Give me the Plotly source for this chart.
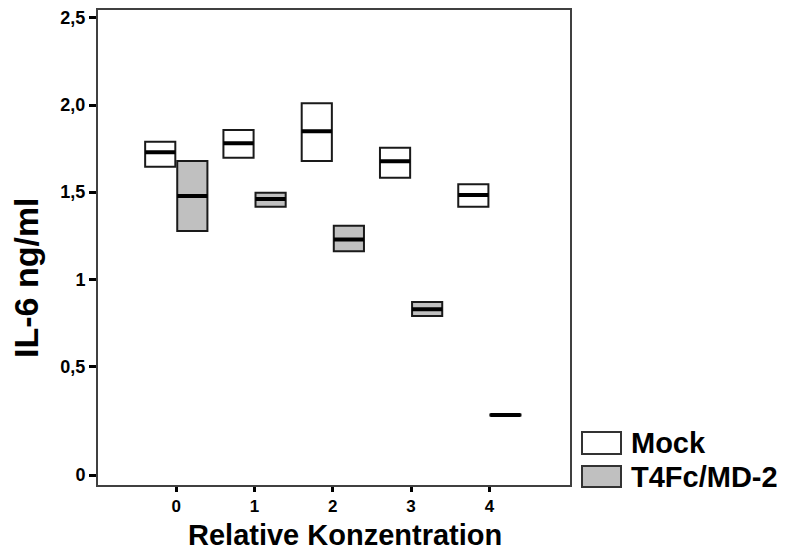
import plotly.graph_objects as go

categories = [0, 1, 2, 3, 4]
tick_text_x = ["0", "1", "2", "3", "4"]

mock_q1 = [1.646, 1.698, 1.679, 1.583, 1.416]
mock_median = [1.729, 1.780, 1.849, 1.677, 1.484]
mock_q3 = [1.789, 1.857, 2.010, 1.755, 1.545]

t4_q1 = [1.277, 1.416, 1.161, 0.789, 0.218]
t4_median = [1.478, 1.461, 1.229, 0.828, 0.221]
t4_q3 = [1.679, 1.497, 1.307, 0.870, 0.224]

y_tick_vals = [-0.123, 0.5, 1.0, 1.5, 2.0, 2.5]
y_tick_text = ["0", "0,5", "1", "1,5", "2,0", "2,5"]

series_names = ["Mock", "T4Fc/MD-2"]
fill_colors = ["#ffffff", "#c0c0c0"]
x_title = "Relative Konzentration"
y_title = "IL-6 ng/ml"

FONT = "Liberation Sans, Arial, sans-serif"

fig = go.Figure()

groups = [
    (series_names[0], mock_q1, mock_median, mock_q3, fill_colors[0], "g1"),
    (series_names[1], t4_q1, t4_median, t4_q3, fill_colors[1], "g2"),
]

for name, q1, med, q3, fc, og in groups:
    fig.add_trace(go.Box(
        name=name, x=categories, q1=q1, median=med, q3=q3,
        lowerfence=q1, upperfence=q3,
        fillcolor=fc, line=dict(color="#1a1a1a", width=2),
        whiskerwidth=0, offsetgroup=og, showlegend=False,
        boxpoints=False,
    ))
for name, q1, med, q3, fc, og in groups:
    fig.add_trace(go.Box(
        name=name + " median", x=categories, q1=med, median=med, q3=med,
        lowerfence=med, upperfence=med,
        fillcolor="rgba(0,0,0,0)", line=dict(color="#000000", width=4),
        whiskerwidth=0, offsetgroup=og, showlegend=False,
        boxpoints=False,
    ))

# page body has an 8px default margin; compensate so the plot lands where the reference has it
OFF = 8
L, R, T, B = 98, 570, 10, 485
W, H = R - L, B - T
def px(x):
    return (x - L) / W
def py(y):
    return (B - y) / H

legend_items = [(series_names[0], fill_colors[0], 432, 454),
                (series_names[1], fill_colors[1], 466, 487)]
shapes = []
annotations = []
for name, fc, y0, y1 in legend_items:
    shapes.append(dict(type="rect", xref="paper", yref="paper",
                       x0=px(582), x1=px(621), y0=py(y1), y1=py(y0),
                       fillcolor=fc, line=dict(color="#333333", width=2)))
    annotations.append(dict(xref="paper", yref="paper", x=px(629),
                            y=py((y0 + y1) / 2), text="<b>%s</b>" % name,
                            showarrow=False, xanchor="left", yanchor="middle",
                            font=dict(family=FONT, size=29, color="black")))

# axis titles
annotations.append(dict(xref="paper", yref="paper", x=px(345), y=py(535),
                        text="<b>%s</b>" % x_title, showarrow=False,
                        xanchor="center", yanchor="middle",
                        font=dict(family=FONT, size=29, color="black")))
annotations.append(dict(xref="paper", yref="paper", x=px(26), y=py(278),
                        text="<b>%s</b>" % y_title, showarrow=False, textangle=-90,
                        xanchor="center", yanchor="middle",
                        font=dict(family=FONT, size=34, color="black")))

fig.update_layout(
    width=785 - OFF, height=556 - OFF,
    margin=dict(l=L - OFF, r=785 - R, t=T - OFF, b=556 - B),
    paper_bgcolor="white", plot_bgcolor="white",
    boxmode="group", boxgap=0.18, boxgroupgap=0.06,
    shapes=shapes, annotations=annotations,
    showlegend=False,
    font=dict(family=FONT, color="black"),
)
fig.update_xaxes(
    range=[-1, 5.03], tickvals=categories, ticktext=["<b>%s</b>" % t for t in tick_text_x],
    tickfont=dict(family=FONT, size=17, color="black"),
    ticks="outside", ticklen=5, tickwidth=3, tickcolor="black",
    showline=True, linecolor="#404040", linewidth=2, mirror=True,
    showgrid=False, zeroline=False, automargin=False,
)
fig.update_yaxes(
    range=[-0.180, 2.545], tickvals=y_tick_vals, ticktext=["<b>%s</b>" % t for t in y_tick_text],
    tickfont=dict(family=FONT, size=18, color="black"),
    ticks="outside", ticklen=7, tickwidth=3, tickcolor="black",
    showline=True, linecolor="#404040", linewidth=2, mirror=True,
    showgrid=False, zeroline=False, automargin=False,
)

fig.write_html("out.html")
